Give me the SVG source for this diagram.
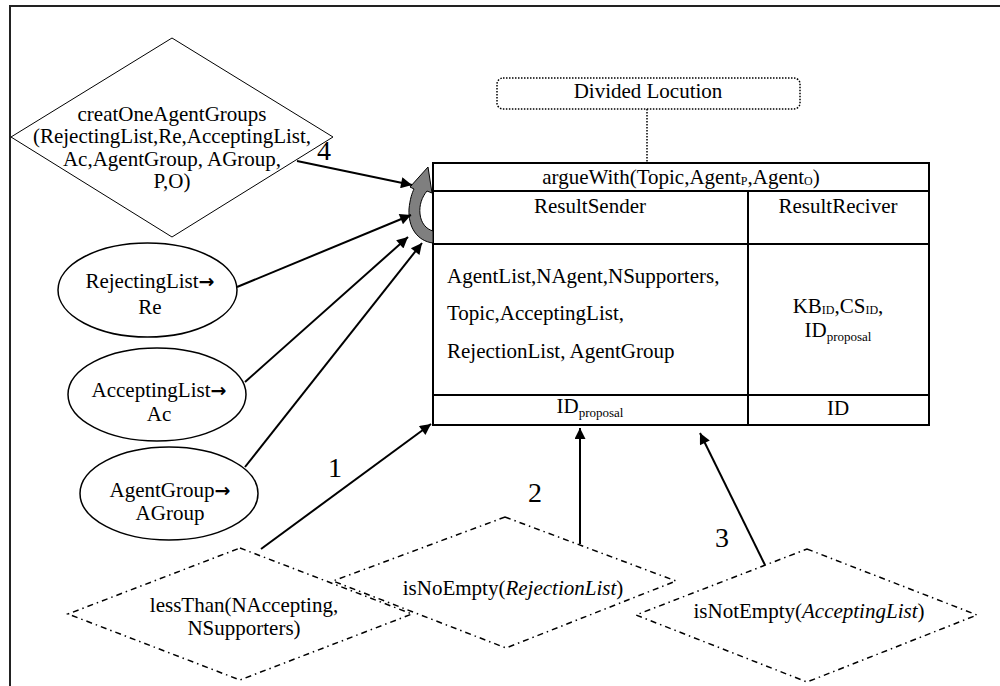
<svg xmlns="http://www.w3.org/2000/svg" width="1000" height="686" viewBox="0 0 1000 686">
<defs>
<style>
text{font-family:"Liberation Serif","Times New Roman",serif;font-size:21px;fill:#000}
.c{text-anchor:middle}
.lab{font-size:28px;text-anchor:middle}
.arr{font-family:"DejaVu Sans",sans-serif;font-weight:bold;font-size:19px}
.cell{fill:none;stroke:#000;stroke-width:2}
.dd{fill:#fff;stroke:#000;stroke-width:1.5;stroke-dasharray:6 4 1.5 4}
.ell{fill:#fff;stroke:#000;stroke-width:1.5}
.conn{fill:none;stroke:#000;stroke-width:2;marker-end:url(#ah)}
.sub{font-size:12px}
.sub2{font-size:13px}
</style>
<marker id="ah" viewBox="0 0 10 10" refX="10" refY="5" markerWidth="15" markerHeight="11" markerUnits="userSpaceOnUse" orient="auto">
<path d="M0,0 L10,5 L0,10 z" fill="#000"/>
</marker>
</defs>
<rect x="0" y="0" width="1000" height="686" fill="#fff"/>
<rect x="10" y="6" width="1000" height="700" fill="none" stroke="#222" stroke-width="2"/>

<g id="divided-locution">
<rect x="497" y="78" width="303" height="31" rx="6" fill="none" stroke="#000" stroke-width="1.5" stroke-dasharray="1.5 1.5"/>
<text x="648" y="98" class="c">Divided Locution</text>
</g>

<g id="create-groups">
<polygon points="172,38 333,137 172,237 11,137" fill="#fff" stroke="#000" stroke-width="1"/>
<text x="172" y="121" class="c">creatOneAgentGroups</text>
<text x="172" y="143" class="c">(RejectingList,Re,AcceptingList,</text>
<text x="172" y="166" class="c">Ac,AgentGroup, AGroup,</text>
<text x="172" y="188" class="c">P,O)</text>
</g>

<g id="rejecting">
<ellipse cx="147.5" cy="290" rx="89.5" ry="47" class="ell"/>
<text x="150" y="288" class="c">RejectingList<tspan class="arr">→</tspan></text>
<text x="150" y="314" class="c">Re</text>
</g>
<g id="accepting">
<ellipse cx="157" cy="394.5" rx="89" ry="46.5" class="ell"/>
<text x="159" y="397" class="c">AcceptingList<tspan class="arr">→</tspan></text>
<text x="159" y="421" class="c">Ac</text>
</g>
<g id="agentgroup">
<ellipse cx="169" cy="493.5" rx="89" ry="46.5" class="ell"/>
<text x="170" y="497" class="c">AgentGroup<tspan class="arr">→</tspan></text>
<text x="170" y="520" class="c">AGroup</text>
</g>

<g id="argue-table">
<rect x="433" y="163" width="496" height="262" class="cell"/>
<line x1="433" y1="191" x2="929" y2="191" class="cell"/>
<line x1="433" y1="244" x2="929" y2="244" class="cell"/>
<line x1="433" y1="395" x2="929" y2="395" class="cell"/>
<line x1="748" y1="191" x2="748" y2="425" class="cell"/>
<text x="681" y="184" class="c">argueWith(Topic,Agent<tspan class="sub" dy="1">P</tspan><tspan dy="-1">,Agent</tspan><tspan class="sub" dy="1">O</tspan><tspan dy="-1">)</tspan></text>
<text x="590" y="213" class="c">ResultSender</text>
<text x="838" y="213" class="c">ResultReciver</text>
<text x="447" y="283">AgentList,NAgent,NSupporters,</text>
<text x="447" y="320">Topic,AcceptingList,</text>
<text x="447" y="358">RejectionList, AgentGroup</text>
<text x="838" y="313" class="c">KB<tspan class="sub" dy="1">ID</tspan><tspan dy="-1">,CS</tspan><tspan class="sub" dy="1">ID</tspan><tspan dy="-1">,</tspan></text>
<text x="838" y="337" class="c">ID<tspan class="sub2" dy="4">proposal</tspan></text>
<text x="590" y="413" class="c">ID<tspan class="sub2" dy="4">proposal</tspan></text>
<text x="838" y="415" class="c">ID</text>
</g>

<g id="curved-arrow">
<path d="M433,243 C417,241 408,227 409,209 C410,199 412,193 414,189 L410,187 L428,167 L432,193 L427,191 C422,197 419,205 420,214 C421,223 426,229 433,231 Z" fill="#7f7f7f" stroke="#000" stroke-width="1"/>
</g>

<g id="less-than">
<polygon points="240,548 412,614 240,680 68,614" class="dd"/>
<text x="244" y="612" class="c">lessThan(NAccepting,</text>
<text x="244" y="635" class="c">NSupporters)</text>
</g>
<g id="is-no-empty">
<polygon points="505,517 676,581 506,648 333,581" class="dd" fill-opacity="0"/>
<text x="513" y="595" class="c">isNoEmpty(<tspan font-style="italic">RejectionList</tspan>)</text>
</g>
<g id="is-not-empty">
<polygon points="807,549 977,615 807,682 636,615" class="dd" fill-opacity="0"/>
<text x="809" y="618" class="c">isNotEmpty(<tspan font-style="italic">AcceptingList</tspan>)</text>
</g>

<g id="connectors">
<line x1="297" y1="161" x2="412" y2="185" class="conn"/>
<line x1="237" y1="287" x2="411" y2="215" class="conn"/>
<line x1="245" y1="382" x2="408" y2="237" class="conn"/>
<line x1="245" y1="467" x2="422" y2="243" class="conn"/>
<line x1="261" y1="549" x2="431" y2="424" class="conn"/>
<line x1="580" y1="544" x2="580" y2="428" class="conn"/>
<line x1="765" y1="565" x2="700" y2="433" class="conn"/>
<line x1="647" y1="109" x2="647" y2="163" fill="none" stroke="#000" stroke-width="1.5" stroke-dasharray="1.5 1.5"/>
<text x="324" y="160" class="lab">4</text>
<text x="335" y="477" class="lab">1</text>
<text x="535" y="502" class="lab">2</text>
<text x="722" y="547" class="lab">3</text>
</g>
</svg>
